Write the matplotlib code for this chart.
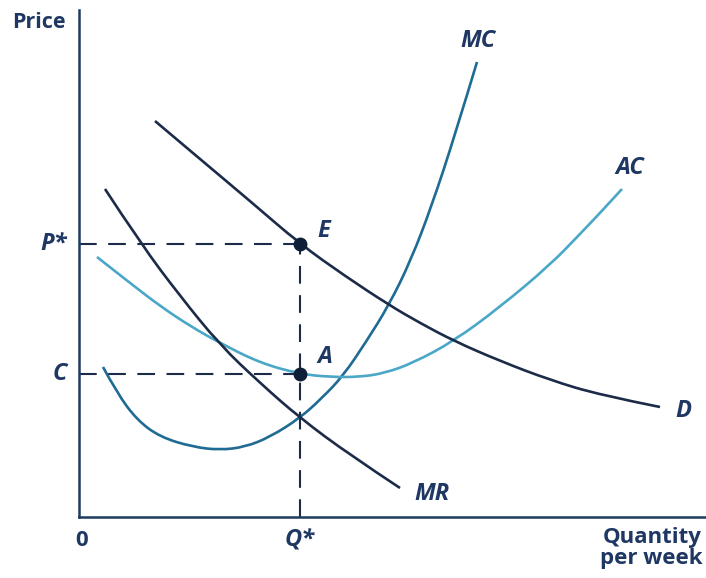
import matplotlib.pyplot as plt
from matplotlib.path import Path
from matplotlib.patches import PathPatch

plt.rcParams['font.family'] = ['Open Sans', 'DejaVu Sans']

# curve points (quantity, price)
d_q = [7.6, 12.1, 17.1, 22.1, 26.6, 31.0, 34.1, 37.5, 42.1, 47.1, 52.1, 58.1]
d_p = [39.6, 35.8, 31.6, 27.3, 24.1, 21.2, 19.4, 17.6, 15.6, 13.7, 12.2, 11.0]

mr_q = [2.6, 6.2, 10.1, 14.1, 18.1, 22.1, 27.1, 32.1]
mr_p = [32.8, 27.3, 22.1, 17.2, 13.4, 9.9, 6.2, 2.9]

mc_q = [2.4, 3.8, 5.8, 8.1, 11.4, 14.1, 16.6, 19.1, 22.1, 24.3, 26.4, 28.7, 31.0, 33.2, 35.3, 37.6, 39.8]
mc_p = [15.0, 12.4, 9.7, 8.0, 7.0, 6.7, 7.0, 8.0, 9.9, 11.9, 14.1, 17.5, 21.2, 25.7, 31.2, 38.2, 45.5]

ac_q = [1.8, 5.1, 8.1, 11.1, 14.1, 18.1, 22.1, 25.1, 28.1, 30.6, 33.4, 37.5, 42.1, 47.1, 50.1, 52.1, 54.3]
ac_p = [26.0, 23.4, 21.1, 19.1, 17.4, 15.4, 14.3, 14.0, 14.0, 14.4, 15.4, 17.6, 21.0, 25.2, 28.3, 30.4, 32.8]

q_star = 22.1
p_star = 27.3
c_level = 14.3

navy = '#1c2b48'
axis_col = '#1e3a5f'
mc_col = '#1f6b94'
ac_col = '#4aa7c7'
txt_col = '#1f3763'


def smooth_curve(ax, xs, ys, color):
    # quadratic bezier through the midpoints, points act as controls
    pts = list(zip(xs, ys))
    verts = [pts[0]]
    codes = [Path.MOVETO]
    for i in range(1, len(pts) - 1):
        mid = ((pts[i][0] + pts[i + 1][0]) / 2, (pts[i][1] + pts[i + 1][1]) / 2)
        if i == len(pts) - 2:
            mid = pts[-1]
        verts += [pts[i], mid]
        codes += [Path.CURVE3, Path.CURVE3]
    ax.add_patch(PathPatch(Path(verts, codes), fill=False, edgecolor=color,
                           lw=1.9, capstyle='butt'))


fig = plt.figure(figsize=(7.06, 5.78), dpi=100)
ax = fig.add_axes([79 / 706, 61 / 578, 627 / 706, 507 / 578])
ax.set_xlim(0, 62.7)
ax.set_ylim(0, 50.7)
for s in ['top', 'right']:
    ax.spines[s].set_visible(False)
for s in ['left', 'bottom']:
    ax.spines[s].set_color(axis_col)
    ax.spines[s].set_linewidth(1.8)
ax.set_xticks([])
ax.set_yticks([])

dash = (0, (8.5, 5.5))
ax.plot([0, q_star], [p_star, p_star], color=navy, lw=1.5, ls=dash)
ax.plot([0, q_star], [c_level, c_level], color=navy, lw=1.5, ls=dash)
ax.plot([q_star, q_star], [0, p_star], color=navy, lw=1.5, ls=dash)

smooth_curve(ax, mc_q, mc_p, mc_col)
smooth_curve(ax, ac_q, ac_p, ac_col)
smooth_curve(ax, d_q, d_p, navy)
smooth_curve(ax, mr_q, mr_p, navy)

ax.plot([q_star, q_star], [p_star, c_level], 'o', color='#0f1e38', ms=9, zorder=5)

lab = dict(color=txt_col, fontweight='bold', fontsize=17, ha='center', va='center',
           style='italic')
ax.text(39.9, 47.6, 'MC', **lab)
ax.text(55.1, 34.9, 'AC', **lab)
ax.text(60.4, 10.6, 'D', **lab)
ax.text(35.3, 2.3, 'MR', **lab)
ax.text(24.5, 28.6, 'E', **lab)
ax.text(24.6, 16.0, 'A', **lab)
ax.text(q_star, -2.4, 'Q*', **lab)
ax.text(-1.2, p_star, 'P*', color=txt_col, fontweight='bold', fontsize=17,
        style='italic', ha='right', va='center')
ax.text(-1.2, c_level, 'C', color=txt_col, fontweight='bold', fontsize=17,
        style='italic', ha='right', va='center')
ax.text(0.3, -2.4, '0', color=txt_col, fontweight='bold', fontsize=16,
        ha='center', va='center')
ax.text(62.4, -1.0, 'Quantity\nper week', color=txt_col, fontweight='bold',
        fontsize=16, ha='right', va='top', multialignment='center', linespacing=1.0)
fig.text(12 / 706, 1 - 22 / 578, 'Price', color=txt_col, fontweight='bold',
         fontsize=15.5, ha='left', va='center')

fig.savefig('out.png', dpi=100)
